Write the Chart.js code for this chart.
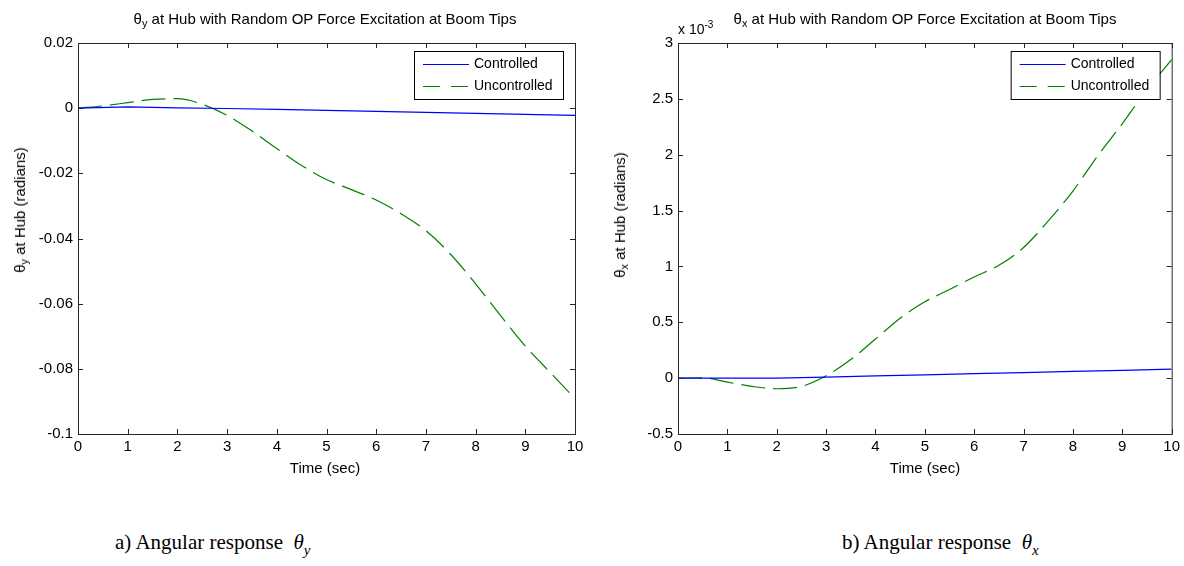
<!DOCTYPE html>
<html>
<head>
<meta charset="utf-8">
<script src="https://cdn.jsdelivr.net/npm/chart.js@4.4.0/dist/chart.umd.min.js"></script>
<style>
  body { margin:0; background:#fff; width:1184px; height:566px; overflow:hidden; position:relative;
         font-family:"Liberation Sans", Arial, sans-serif; color:#000; }
  .wrap { position:absolute; top:0; height:480px; }
  .txt { position:absolute; font-size:15px; line-height:16px; white-space:nowrap; transform:translateX(-50%); }
  .ylab { position:absolute; font-size:15px; line-height:16px; white-space:nowrap; transform:translate(-50%,-50%) rotate(-90deg); }
  .txt sub, .ylab sub { font-size:11px; vertical-align:-3px; line-height:0; }
  .exp { position:absolute; font-size:14px; line-height:16px; white-space:nowrap; }
  .exp sup { font-size:10px; vertical-align:6px; line-height:0; }
  .cap { position:absolute; font-family:"Liberation Serif", "Times New Roman", serif; font-size:21px; line-height:24px; white-space:nowrap; }
  .cap i sub { font-size:15px; vertical-align:-6px; line-height:0; }
</style>
</head>
<body>
<div class="wrap" style="left:0;width:600px"><canvas id="chartA" width="600" height="480"></canvas></div>
<div class="wrap" style="left:600px;width:584px"><canvas id="chartB" width="584" height="480"></canvas></div>

<div class="txt" style="left:325px;top:11px">&theta;<sub>y</sub> at Hub with Random OP Force Excitation at Boom Tips</div>
<div class="txt" style="left:925px;top:11px">&theta;<sub>x</sub> at Hub with Random OP Force Excitation at Boom Tips</div>
<div class="ylab" style="left:20px;top:210px">&theta;<sub>y</sub> at Hub (radians)</div>
<div class="ylab" style="left:620px;top:215px">&theta;<sub>x</sub> at Hub (radians)</div>
<div class="exp" style="left:678px;top:21px">x 10<sup>-3</sup></div>
<div class="txt" style="left:325px;top:460px">Time (sec)</div>
<div class="txt" style="left:925px;top:460px">Time (sec)</div>
<div class="cap" style="left:115px;top:530px">a) Angular response&nbsp; <i>&theta;<sub>y</sub></i></div>
<div class="cap" style="left:842px;top:530px">b) Angular response&nbsp; <i>&theta;<sub>x</sub></i></div>

<script>
// time samples (sec)
const tFine = [0, 0.5, 1, 1.5, 2, 2.5, 3, 3.5, 4, 4.5, 5, 5.5, 6, 6.5, 7, 7.5, 8, 8.5, 9, 9.5, 10];
const tCoarse = [0, 1, 2, 3, 4, 5, 6, 7, 8, 9, 10];

// a) theta_y (radians)
const thetaYUncontrolled = [0, 0.0007, 0.0017, 0.0027, 0.0029, 0.0012, -0.0022, -0.007, -0.0124, -0.0176, -0.0219,
  -0.025, -0.0282, -0.0324, -0.0376, -0.0449, -0.0539, -0.0636, -0.073, -0.0811, -0.0891];
const thetaYControlled = [0, 0.0004, 0.0001, -0.0001, -0.0004, -0.0007, -0.001, -0.0013, -0.0016, -0.0019, -0.0022];

// b) theta_x (units of 1e-3 rad, axis shows x 10^-3)
const thetaXUncontrolled = [0, 0.003, -0.036, -0.074, -0.095, -0.074, 0.021, 0.166, 0.35, 0.537, 0.683,
  0.793, 0.906, 1.01, 1.17, 1.407, 1.675, 1.989, 2.277, 2.583, 2.85];
const thetaXControlled = [0, 0, 0, 0.01, 0.02, 0.03, 0.04, 0.05, 0.06, 0.07, 0.08];

const xTicks = { min: 0, max: 10, step: 1 };
const yTicksA = { min: -0.1, max: 0.02, step: 0.02 };
const yTicksB = { min: -0.5, max: 3, step: 0.5 };
const seriesNames = ['Controlled', 'Uncontrolled'];

const tickFont = { family: '"Liberation Sans", Arial, sans-serif', size: 15 };

// MATLAB-style box, inward ticks and boxed legend
const matlabFrame = {
  id: 'matlabFrame',
  afterDatasetsDraw(chart) {
    const { ctx, chartArea: a, scales } = chart;
    ctx.save();
    ctx.strokeStyle = '#262626';
    ctx.lineWidth = 1;
    ctx.setLineDash([]);
    ctx.strokeRect(a.left + 0.5, a.top + 0.5, a.right - a.left, a.bottom - a.top);
    const len = 5;
    ctx.beginPath();
    scales.x.ticks.forEach(t => {
      const x = Math.round(scales.x.getPixelForValue(t.value)) + 0.5;
      ctx.moveTo(x, a.bottom); ctx.lineTo(x, a.bottom - len);
      ctx.moveTo(x, a.top); ctx.lineTo(x, a.top + len);
    });
    scales.y.ticks.forEach(t => {
      const y = Math.round(scales.y.getPixelForValue(t.value)) + 0.5;
      ctx.moveTo(a.left, y); ctx.lineTo(a.left + len, y);
      ctx.moveTo(a.right, y); ctx.lineTo(a.right - len, y);
    });
    ctx.stroke();

    // legend
    const bw = 149, bh = 48;
    const bx = a.right - 12 - bw, by = a.top + 8;
    ctx.fillStyle = '#fff';
    ctx.fillRect(bx, by, bw, bh);
    ctx.strokeStyle = '#000';
    ctx.strokeRect(bx + 0.5, by + 0.5, bw, bh);
    ctx.font = '14px "Liberation Sans", Arial, sans-serif';
    ctx.textBaseline = 'middle';
    chart.data.datasets.forEach((ds, i) => {
      const y = by + 13 + i * 22 + 0.5;
      ctx.strokeStyle = ds.borderColor;
      ctx.lineWidth = 1;
      ctx.setLineDash(ds.borderDash.length ? [17, 11] : []);
      ctx.beginPath();
      ctx.moveTo(bx + 9, y); ctx.lineTo(bx + 55, y);
      ctx.stroke();
      ctx.fillStyle = '#000';
      ctx.fillText(ds.label, bx + 60, y);
    });
    ctx.restore();
  }
};

function makeChart(id, ctrl, unctrl, yt, padRight, fmt) {
  return new Chart(document.getElementById(id), {
    type: 'line',
    data: {
      datasets: [
        {
          label: seriesNames[0],
          data: tCoarse.map((t, i) => ({ x: t, y: ctrl[i] })),
          borderColor: '#0000ff',
          borderWidth: 1.2,
          borderDash: [],
          tension: 0,
          pointRadius: 0,
        },
        {
          label: seriesNames[1],
          data: tFine.map((t, i) => ({ x: t, y: unctrl[i] })),
          borderColor: '#008000',
          borderWidth: 1.2,
          borderDash: [24, 8],
          cubicInterpolationMode: 'monotone',
          pointRadius: 0,
        },
      ],
    },
    options: {
      responsive: false,
      animation: false,
      devicePixelRatio: 1,
      layout: { padding: { top: 43, right: padRight, left: 0, bottom: 0 } },
      plugins: { legend: { display: false }, tooltip: { enabled: false } },
      scales: {
        x: {
          type: 'linear', min: xTicks.min, max: xTicks.max,
          ticks: { stepSize: xTicks.step, padding: 4, color: '#000', font: tickFont, maxRotation: 0, autoSkip: false },
          grid: { display: false, drawTicks: false },
          border: { display: false },
          afterFit: s => { s.height = 46; },
        },
        y: {
          type: 'linear', min: yt.min, max: yt.max,
          ticks: { stepSize: yt.step, padding: 5, color: '#000', font: tickFont, callback: fmt },
          grid: { display: false, drawTicks: false },
          border: { display: false },
          afterFit: s => { s.width = 78; },
        },
      },
    },
    plugins: [matlabFrame],
  });
}

makeChart('chartA', thetaYControlled, thetaYUncontrolled, yTicksA, 25, v => String(Number(v.toFixed(2))));
makeChart('chartB', thetaXControlled, thetaXUncontrolled, yTicksB, 9, v => String(Number(v.toFixed(1))));
</script>
</body>
</html>
